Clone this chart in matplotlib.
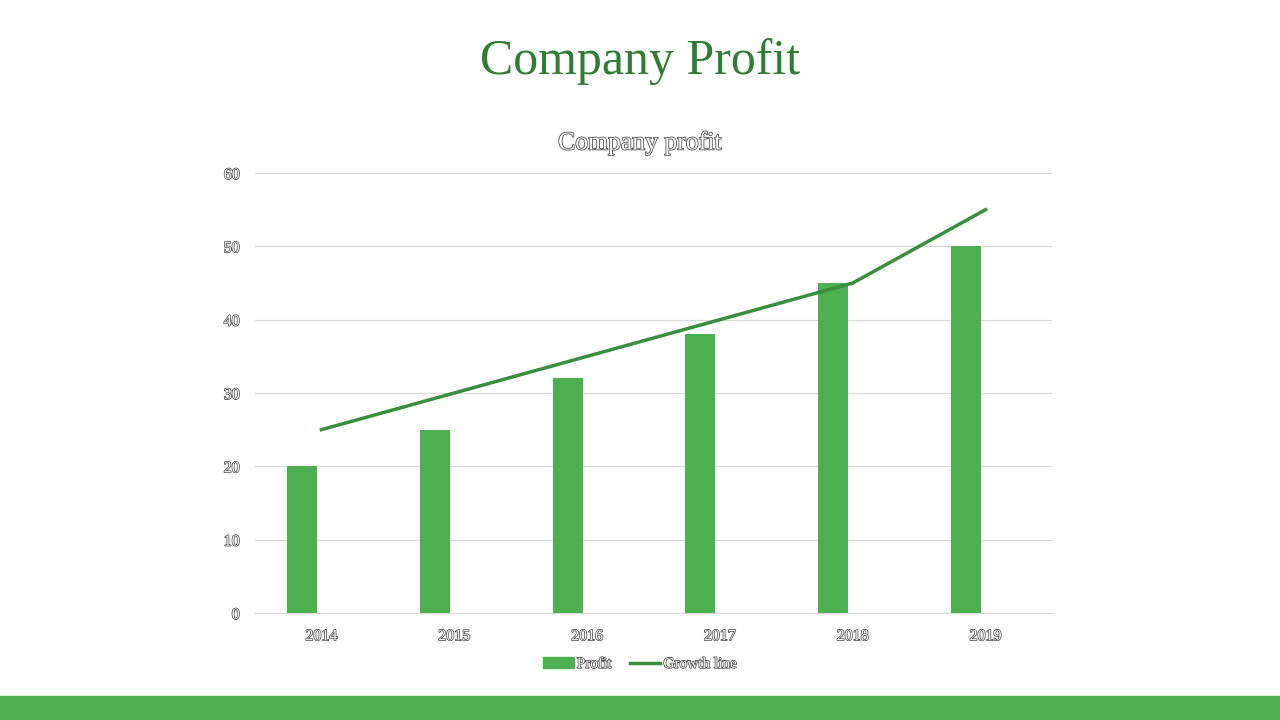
import matplotlib
matplotlib.use("Agg")
import matplotlib.pyplot as plt
import matplotlib.patheffects as pe
from matplotlib.patches import Rectangle
from matplotlib.lines import Line2D
import numpy as np

years = ["2014", "2015", "2016", "2017", "2018", "2019"]
profit = [20, 25, 32, 38, 45, 50]
growth = [25, 30, 35, 40, 45, 55]
yticks = [0, 10, 20, 30, 40, 50, 60]

BAR_C = "#4CAF50"
LINE_C = "#388E3C"
TITLE_C = "#2E7D32"
SERIF = ["Liberation Serif", "DejaVu Serif"]
outline = [pe.withStroke(linewidth=1.0, foreground="#404040")]

fig = plt.figure(figsize=(12.8, 7.2), dpi=100)
fig.patch.set_facecolor("white")

fig.text(0.5, 1 - 62 / 720, "Company Profit", ha="center", va="center",
         fontsize=36, color=TITLE_C, family=SERIF)

ax = fig.add_axes([255 / 1280, 107 / 720, 797 / 1280, 440 / 720])
x = np.arange(len(years))
ax.bar(x - 0.147, profit, width=0.226, color=BAR_C, zorder=3)
ax.plot(x, growth, color=LINE_C, linewidth=2.5, zorder=4)
ax.set_xlim(-0.5, len(years) - 0.5)
ax.set_ylim(0, 60)
ax.set_yticks(yticks)
ax.set_xticks(x)
ax.set_xticklabels(years)
ax.grid(axis="y", color="#D9D9D9", linewidth=0.9, zorder=0)
for s in ["top", "right", "left"]:
    ax.spines[s].set_visible(False)
ax.spines["bottom"].set_color("#D9D9D9")
ax.tick_params(length=0)
ax.tick_params(axis="x", pad=11)
ax.tick_params(axis="y", pad=11)
for lab in ax.get_xticklabels() + ax.get_yticklabels():
    lab.set_family(SERIF)
    lab.set_fontsize(11.5)
    lab.set_color("white")
    lab.set_path_effects(outline)

fig.text(0.5, 1 - 143 / 720, "Company profit", ha="center", va="center",
         family=SERIF, fontsize=18.5, color="white",
         path_effects=[pe.withStroke(linewidth=1.1, foreground="#404040")])

handles = [Rectangle((0, 0), 1, 1, color=BAR_C),
           Line2D([0], [0], color=LINE_C, linewidth=2.5)]
leg = fig.legend(handles, ["Profit", "Growth line"], loc="center",
                 bbox_to_anchor=(0.5, 1 - 664 / 720), ncol=2, frameon=False,
                 prop={"family": SERIF, "size": 11}, handlelength=2.0,
                 handletextpad=0.2, columnspacing=1.2)
for t in leg.get_texts():
    t.set_color("white")
    t.set_path_effects(outline)

fig.add_artist(Rectangle((0, 0), 1, 24 / 720, transform=fig.transFigure,
                         color=BAR_C, zorder=0))

fig.savefig("out.png", dpi=100)
